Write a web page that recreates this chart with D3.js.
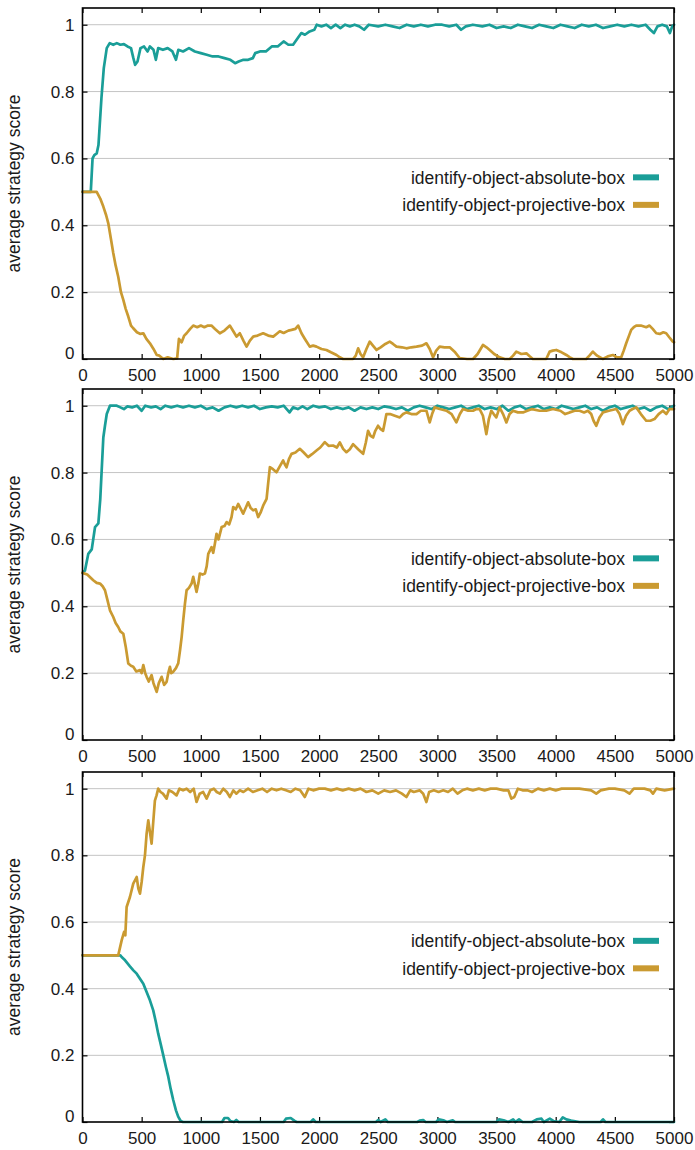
<!DOCTYPE html>
<html>
<head>
<meta charset="utf-8">
<script src="https://cdn.jsdelivr.net/npm/d3@7"></script>
<style>
  html, body { margin: 0; padding: 0; background: #fff; }
  svg { display: block; }
  text { font-family: "Liberation Sans", Arial, Helvetica, sans-serif; fill: #1a1a1a; }
</style>
</head>
<body>
<script>
// ---------------- DATA (step, average strategy score) ----------------
const seriesNames = ["identify-object-absolute-box", "identify-object-projective-box"];
const xTicks = [0, 500, 1000, 1500, 2000, 2500, 3000, 3500, 4000, 4500, 5000];
const yTicks = [0, 0.2, 0.4, 0.6, 0.8, 1];

// Panel 1 (top)
const p1Absolute = [[0,0.5],[70,0.5],[85,0.6],[100,0.61],[120,0.615],[135,0.64],[160,0.78],[180,0.87],[205,0.93],[230,0.945],[260,0.94],[290,0.945],[320,0.94],[350,0.942],[380,0.935],[410,0.93],[430,0.9],[445,0.88],[465,0.89],[490,0.93],[520,0.935],[550,0.92],[570,0.935],[600,0.925],[620,0.895],[640,0.93],[680,0.925],[720,0.93],[760,0.92],[790,0.895],[810,0.925],[850,0.92],[900,0.93],[950,0.92],[1000,0.915],[1050,0.91],[1100,0.905],[1150,0.905],[1200,0.9],[1250,0.895],[1290,0.885],[1320,0.89],[1360,0.895],[1400,0.895],[1440,0.9],[1460,0.915],[1500,0.92],[1550,0.92],[1600,0.935],[1650,0.935],[1700,0.95],[1740,0.94],[1780,0.94],[1820,0.96],[1850,0.975],[1880,0.97],[1920,0.98],[1960,0.985],[1980,1.0],[2020,0.995],[2060,1.0],[2100,0.99],[2140,1.0],[2180,0.99],[2220,1.0],[2260,0.995],[2300,1.0],[2340,0.995],[2380,0.985],[2420,1.0],[2500,0.995],[2560,1.0],[2620,0.995],[2680,0.99],[2740,1.0],[2800,0.995],[2860,1.0],[2920,0.995],[2980,1.0],[3040,1.0],[3100,0.995],[3160,1.0],[3200,0.985],[3240,0.995],[3300,1.0],[3380,0.995],[3440,1.0],[3500,0.99],[3560,0.995],[3620,0.99],[3680,1.0],[3740,0.995],[3800,0.99],[3860,1.0],[3920,0.995],[3980,0.99],[4040,1.0],[4100,0.995],[4160,0.99],[4220,1.0],[4280,0.995],[4340,1.0],[4400,0.99],[4460,0.995],[4520,1.0],[4580,0.995],[4640,1.0],[4700,0.995],[4760,1.0],[4800,0.985],[4830,0.975],[4860,0.995],[4900,1.0],[4940,0.995],[4965,0.975],[4985,0.995],[5000,1.0]];
const p1Projective = [[0,0.5],[120,0.5],[150,0.48],[176,0.456],[200,0.43],[218,0.406],[240,0.36],[260,0.317],[280,0.28],[302,0.246],[325,0.2],[345,0.177],[365,0.15],[387,0.127],[410,0.1],[429,0.092],[460,0.08],[490,0.075],[514,0.077],[540,0.06],[570,0.047],[600,0.03],[627,0.012],[650,0.01],[683,0.0],[720,0.005],[767,0.0],[800,0.002],[815,0.06],[838,0.05],[860,0.07],[880,0.077],[910,0.09],[936,0.1],[970,0.095],[1000,0.1],[1030,0.095],[1060,0.1],[1090,0.1],[1120,0.09],[1161,0.077],[1200,0.085],[1246,0.1],[1280,0.08],[1302,0.067],[1330,0.077],[1360,0.055],[1387,0.037],[1415,0.055],[1443,0.067],[1480,0.07],[1527,0.077],[1570,0.07],[1612,0.067],[1640,0.075],[1668,0.083],[1700,0.078],[1740,0.085],[1767,0.087],[1800,0.09],[1823,0.1],[1851,0.077],[1880,0.06],[1921,0.037],[1950,0.04],[1978,0.037],[2020,0.03],[2062,0.027],[2100,0.02],[2147,0.012],[2175,0.005],[2203,0.0],[2287,0.0],[2310,0.01],[2330,0.032],[2350,0.015],[2372,0.005],[2400,0.03],[2428,0.052],[2455,0.04],[2485,0.027],[2520,0.035],[2560,0.045],[2597,0.052],[2625,0.045],[2654,0.037],[2700,0.035],[2738,0.032],[2780,0.035],[2823,0.037],[2870,0.04],[2907,0.047],[2935,0.03],[2963,0.005],[2990,0.025],[3019,0.037],[3060,0.035],[3104,0.035],[3150,0.02],[3188,0.003],[3250,0.0],[3301,0.0],[3340,0.015],[3385,0.042],[3415,0.035],[3442,0.027],[3480,0.015],[3526,0.005],[3570,0.0],[3611,0.0],[3640,0.01],[3667,0.022],[3710,0.015],[3752,0.017],[3780,0.008],[3807,0.0],[3920,0.0],[3949,0.022],[3975,0.025],[4005,0.027],[4050,0.02],[4090,0.012],[4120,0.005],[4146,0.0],[4258,0.0],[4285,0.01],[4314,0.022],[4350,0.01],[4399,0.0],[4440,0.008],[4483,0.012],[4520,0.005],[4554,0.005],[4575,0.025],[4596,0.047],[4620,0.07],[4638,0.087],[4660,0.095],[4681,0.1],[4720,0.1],[4765,0.095],[4793,0.1],[4820,0.09],[4850,0.077],[4880,0.075],[4910,0.08],[4934,0.077],[4960,0.065],[4990,0.052],[5000,0.05]];

// Panel 2 (middle)
const p2Absolute = [[0,0.5],[21,0.507],[49,0.557],[78,0.57],[106,0.637],[134,0.648],[150,0.72],[162,0.806],[176,0.905],[190,0.94],[205,0.975],[232,1.0],[260,1.0],[290,1.0],[320,0.995],[350,0.99],[380,0.998],[420,0.995],[460,1.0],[500,0.985],[530,1.0],[580,0.995],[620,0.998],[660,0.99],[700,1.0],[750,0.995],[800,1.0],[850,0.995],[900,1.0],[950,0.995],[1000,1.0],[1050,0.99],[1100,0.995],[1150,0.985],[1200,0.995],[1250,1.0],[1300,0.995],[1350,1.0],[1400,0.995],[1450,1.0],[1500,0.99],[1550,0.995],[1600,0.998],[1650,0.995],[1700,1.0],[1750,0.98],[1780,0.995],[1820,0.99],[1860,0.998],[1900,0.99],[1950,1.0],[2000,0.995],[2050,0.998],[2100,0.99],[2150,0.995],[2200,0.99],[2250,0.995],[2300,0.985],[2350,0.995],[2400,0.99],[2450,0.995],[2500,0.99],[2550,0.998],[2600,0.995],[2650,0.99],[2700,0.995],[2750,0.985],[2800,0.995],[2850,1.0],[2900,0.995],[2950,0.99],[3000,1.0],[3050,0.995],[3100,0.99],[3150,0.995],[3200,1.0],[3250,0.99],[3300,0.995],[3350,1.0],[3400,0.99],[3450,0.995],[3500,0.99],[3550,1.0],[3600,0.985],[3650,0.995],[3700,1.0],[3750,0.99],[3800,0.995],[3850,1.0],[3900,0.99],[3950,0.995],[4000,0.99],[4050,1.0],[4100,0.995],[4150,0.99],[4200,0.995],[4250,1.0],[4300,0.99],[4350,0.995],[4400,0.985],[4450,0.995],[4500,1.0],[4550,0.99],[4600,0.995],[4650,1.0],[4700,0.99],[4750,0.995],[4800,0.985],[4850,0.995],[4900,1.0],[4950,0.99],[5000,1.0]];
const p2Projective = [[0,0.5],[40,0.495],[91,0.478],[120,0.47],[148,0.468],[170,0.46],[190,0.448],[210,0.42],[232,0.388],[260,0.368],[280,0.35],[302,0.338],[320,0.325],[345,0.318],[365,0.28],[387,0.229],[410,0.222],[429,0.219],[455,0.205],[486,0.209],[500,0.2],[514,0.224],[530,0.2],[542,0.189],[560,0.175],[584,0.194],[600,0.17],[627,0.144],[645,0.17],[669,0.189],[690,0.165],[711,0.174],[725,0.2],[739,0.219],[750,0.2],[767,0.204],[790,0.215],[809,0.229],[825,0.27],[838,0.308],[852,0.36],[866,0.408],[880,0.448],[900,0.455],[922,0.468],[936,0.488],[950,0.465],[964,0.443],[980,0.47],[992,0.498],[1015,0.495],[1035,0.498],[1050,0.52],[1063,0.557],[1091,0.577],[1105,0.56],[1119,0.587],[1133,0.617],[1150,0.6],[1176,0.637],[1200,0.64],[1218,0.652],[1240,0.645],[1260,0.667],[1274,0.697],[1295,0.69],[1316,0.706],[1340,0.69],[1358,0.677],[1380,0.695],[1400,0.711],[1420,0.695],[1443,0.687],[1465,0.69],[1485,0.667],[1505,0.68],[1527,0.701],[1556,0.721],[1570,0.77],[1584,0.816],[1610,0.81],[1640,0.801],[1670,0.82],[1696,0.836],[1710,0.825],[1725,0.816],[1745,0.84],[1767,0.856],[1800,0.86],[1837,0.871],[1870,0.86],[1907,0.846],[1940,0.855],[1978,0.866],[2010,0.875],[2048,0.891],[2080,0.88],[2118,0.881],[2150,0.875],[2175,0.89],[2203,0.871],[2231,0.861],[2260,0.87],[2287,0.885],[2330,0.87],[2372,0.856],[2395,0.89],[2414,0.925],[2435,0.91],[2456,0.905],[2475,0.925],[2498,0.94],[2520,0.93],[2541,0.925],[2555,0.95],[2569,0.975],[2600,0.975],[2640,0.97],[2682,0.965],[2710,0.975],[2738,0.98],[2780,0.975],[2823,0.975],[2860,0.985],[2907,0.985],[2935,0.95],[2955,0.975],[2977,0.995],[3020,0.99],[3076,0.985],[3120,0.975],[3160,0.95],[3190,0.975],[3216,0.99],[3260,0.985],[3301,0.985],[3330,0.99],[3357,0.99],[3385,0.97],[3414,0.915],[3435,0.96],[3456,0.985],[3476,0.975],[3498,0.965],[3526,0.995],[3555,0.975],[3583,0.95],[3610,0.975],[3639,0.985],[3680,0.98],[3723,0.98],[3760,0.985],[3800,0.99],[3864,0.985],[3920,0.985],[3977,0.99],[4040,0.985],[4080,0.975],[4118,0.98],[4160,0.985],[4202,0.985],[4240,0.98],[4272,0.985],[4300,0.975],[4320,0.955],[4343,0.94],[4370,0.965],[4399,0.98],[4450,0.985],[4512,0.99],[4540,0.975],[4568,0.945],[4595,0.97],[4624,0.985],[4650,0.99],[4681,0.995],[4720,0.975],[4765,0.955],[4800,0.955],[4835,0.96],[4870,0.975],[4906,0.985],[4935,0.975],[4962,0.99],[5000,0.99]];

// Panel 3 (bottom)
const p3Absolute = [[0,0.5],[320,0.5],[331,0.495],[360,0.485],[401,0.467],[430,0.455],[458,0.445],[486,0.43],[514,0.415],[542,0.39],[570,0.365],[598,0.335],[620,0.3],[640,0.265],[660,0.235],[683,0.2],[705,0.165],[725,0.136],[745,0.1],[767,0.066],[790,0.035],[809,0.016],[830,0.003],[850,0.0],[1180,0.0],[1200,0.012],[1230,0.012],[1250,0.003],[1280,0.0],[1300,0.006],[1320,0.0],[1700,0.0],[1720,0.01],[1760,0.012],[1790,0.004],[1810,0.0],[1930,0.0],[1950,0.008],[1970,0.0],[2480,0.0],[2500,0.006],[2520,0.0],[2560,0.008],[2580,0.0],[2830,0.0],[2850,0.004],[2880,0.006],[2900,0.0],[2990,0.0],[3010,0.008],[3050,0.005],[3080,0.0],[3130,0.005],[3150,0.0],[3500,0.0],[3520,0.008],[3560,0.005],[3600,0.0],[3640,0.008],[3660,0.0],[3690,0.008],[3720,0.0],[3800,0.0],[3840,0.008],[3880,0.01],[3900,0.0],[3950,0.01],[3980,0.003],[4030,0.0],[4060,0.014],[4090,0.008],[4130,0.004],[4200,0.0],[4380,0.0],[4400,0.008],[4420,0.0],[5000,0.0]];
const p3Projective = [[0,0.5],[302,0.5],[331,0.545],[351,0.57],[362,0.56],[373,0.645],[401,0.675],[429,0.715],[458,0.735],[472,0.7],[486,0.685],[500,0.72],[514,0.765],[528,0.8],[542,0.865],[556,0.905],[570,0.87],[584,0.835],[598,0.9],[612,0.964],[626,0.98],[640,1.0],[660,0.99],[680,0.985],[711,0.97],[730,0.995],[760,0.99],[795,0.98],[820,1.0],[850,0.995],[880,1.0],[910,0.99],[940,1.0],[964,0.96],[990,0.985],[1020,0.99],[1049,0.97],[1080,0.995],[1110,1.0],[1135,0.99],[1161,0.985],[1190,1.0],[1220,0.99],[1246,0.975],[1275,0.995],[1300,0.985],[1330,0.995],[1360,0.99],[1400,1.0],[1440,0.99],[1480,0.995],[1520,1.0],[1560,0.99],[1600,1.0],[1640,0.995],[1680,1.0],[1720,0.995],[1760,0.99],[1800,1.0],[1840,0.995],[1879,0.975],[1910,1.0],[1950,0.995],[2000,1.0],[2050,1.0],[2100,0.995],[2150,1.0],[2200,0.995],[2250,1.0],[2300,0.995],[2350,1.0],[2400,0.99],[2450,0.995],[2500,0.985],[2550,0.995],[2600,0.99],[2650,0.995],[2700,0.985],[2738,0.975],[2770,0.995],[2800,0.99],[2850,0.995],[2880,0.985],[2907,0.96],[2930,0.99],[2970,0.995],[3010,0.99],[3050,0.995],[3090,0.99],[3130,1.0],[3170,0.985],[3210,0.995],[3250,1.0],[3300,0.995],[3350,1.0],[3400,0.995],[3450,1.0],[3500,1.0],[3560,0.995],[3600,0.995],[3625,0.97],[3650,0.975],[3680,1.0],[3720,0.995],[3760,0.995],[3800,0.99],[3850,1.0],[3900,0.995],[3950,1.0],[4000,0.995],[4050,1.0],[4100,1.0],[4200,1.0],[4300,0.995],[4343,0.985],[4380,0.995],[4450,1.0],[4500,1.0],[4580,0.995],[4624,0.985],[4660,1.0],[4750,1.0],[4800,0.995],[4822,0.985],[4850,1.0],[4920,0.995],[5000,1.0]];

// ---------------- LAYOUT ----------------
const W = 695, H = 1150;
const colors = ["#1a9e98", "#ca9a31"];
const left = 82.5, right = 674;
const panels = [
  { top: 8,   bottom: 359,  series: [p1Absolute, p1Projective] },
  { top: 389, bottom: 740,  series: [p2Absolute, p2Projective] },
  { top: 772, bottom: 1122, series: [p3Absolute, p3Projective] }
];

const svg = d3.select("body").append("svg").attr("width", W).attr("height", H);
const x = d3.scaleLinear().domain([0, 5000]).range([left, right]);

panels.forEach((p, pi) => {
  const y = d3.scaleLinear().domain([0, 1.05]).range([p.bottom, p.top]);
  const g = svg.append("g");

  // grid
  g.append("g").selectAll("line").data(yTicks.filter(v => v > 0)).join("line")
    .attr("x1", left).attr("x2", right)
    .attr("y1", d => y(d)).attr("y2", d => y(d))
    .attr("stroke", "#c4c4c4").attr("stroke-width", 1);

  // axes (ticks inward)
  const ax = g.append("g").attr("transform", `translate(0,${p.bottom})`)
    .call(d3.axisBottom(x).tickValues(xTicks).tickSizeInner(-5).tickSizeOuter(0).tickPadding(10).tickFormat(d3.format("d")));
  const axT = g.append("g").attr("transform", `translate(0,${p.top})`)
    .call(d3.axisTop(x).tickValues(xTicks).tickSizeInner(-5).tickSizeOuter(0).tickFormat(""));
  const ay = g.append("g").attr("transform", `translate(${left},0)`)
    .call(d3.axisLeft(y).tickValues(yTicks).tickSizeInner(-5).tickSizeOuter(0).tickPadding(8).tickFormat(d => d === 0 ? "0" : (d === 1 ? "1" : d3.format(".1f")(d))));
  const ayR = g.append("g").attr("transform", `translate(${right},0)`)
    .call(d3.axisRight(y).tickValues(yTicks).tickSizeInner(-5).tickSizeOuter(0).tickFormat(""));
  [ax, axT, ay, ayR].forEach(a => {
    a.select(".domain").remove();
    a.selectAll(".tick line").attr("stroke", "#000").attr("stroke-width", 1.2);
    a.selectAll("text").attr("font-size", 17).attr("fill", "#1a1a1a")
      .attr("font-family", '"Liberation Sans", Arial, Helvetica, sans-serif');
  });
  ay.selectAll(".tick").filter(d => d === 0).select("text").attr("dy", "-0.03em");

  // lines
  const line = d3.line().x(d => x(d[0])).y(d => y(d[1]));
  p.series.forEach((s, si) => {
    g.append("path").datum(s).attr("d", line)
      .attr("fill", "none").attr("stroke", colors[si])
      .attr("stroke-width", 2.7).attr("stroke-linejoin", "round").attr("stroke-linecap", "round");
  });

  // frame
  g.append("rect").attr("x", left).attr("y", p.top)
    .attr("width", right - left).attr("height", p.bottom - p.top)
    .attr("fill", "none").attr("stroke", "#000").attr("stroke-width", 1.6);

  // y label
  g.append("text")
    .attr("transform", `translate(20,${(p.top + p.bottom) / 2}) rotate(-90)`)
    .attr("text-anchor", "middle").attr("font-size", 17.5)
    .text("average strategy score");

  // legend
  const cy = y(0.5);
  const rows = [cy - 14.5, cy + 13];
  seriesNames.forEach((name, si) => {
    g.append("text").attr("x", 625).attr("y", rows[si] + 6.3)
      .attr("text-anchor", "end").attr("font-size", 17.5).text(name);
    g.append("rect").attr("x", 633).attr("y", rows[si] - 3)
      .attr("width", 26).attr("height", 6).attr("fill", colors[si]);
  });
});
</script>
</body>
</html>
